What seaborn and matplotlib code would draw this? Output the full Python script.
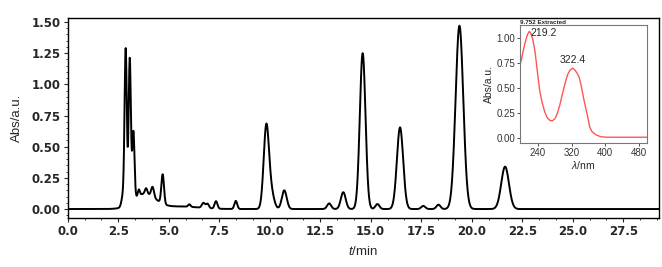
import numpy as np
import pandas as pd
import matplotlib
matplotlib.use('Agg')
import matplotlib.pyplot as plt
from matplotlib.ticker import MultipleLocator, FormatStrFormatter
import seaborn as sns

sns.set_style('ticks')
plt.rcParams['font.family'] = ['Liberation Sans', 'DejaVu Sans']
plt.rcParams['mathtext.fontset'] = 'custom'
plt.rcParams['mathtext.it'] = 'Liberation Sans:italic'
plt.rcParams['mathtext.rm'] = 'Liberation Sans'

# ── chromatogram peaks: retention time, height, width (sigma)
peak_time = [2.75, 2.87, 3.07, 3.25, 3.52, 3.88, 4.20, 4.70, 3.80, 5.60,
             6.02, 6.72, 6.92, 7.34, 8.32, 9.83, 10.08, 10.72, 12.94, 13.64,
             14.60, 15.33, 16.45, 17.60, 18.35, 19.39, 21.65]
peak_height = [0.10, 1.23, 1.16, 0.55, 0.05, 0.045, 0.08, 0.235, 0.12, 0.02,
               0.02, 0.04, 0.035, 0.06, 0.065, 0.66, 0.12, 0.15, 0.045, 0.135,
               1.25, 0.04, 0.655, 0.025, 0.035, 1.47, 0.34]
peak_sigma = [0.08, 0.055, 0.055, 0.055, 0.05, 0.06, 0.07, 0.065, 0.55, 0.9,
              0.06, 0.08, 0.07, 0.07, 0.07, 0.13, 0.14, 0.12, 0.10, 0.12,
              0.14, 0.10, 0.155, 0.10, 0.10, 0.19, 0.19]

# ── UV spectrum of the 9.752 min peak
wavelength = [197, 200, 205, 210, 215, 219.2, 223, 228, 233, 238, 244, 250, 256,
              262, 268, 274, 280, 286, 292, 298, 304, 310, 316, 322.4, 328, 333,
              338, 343, 348, 353, 358, 363, 368, 373, 380, 390, 400, 420, 450,
              480, 499]
absorb = [0.73, 0.78, 0.88, 0.97, 1.04, 1.07, 1.05, 0.98, 0.86, 0.68, 0.47, 0.35,
          0.26, 0.20, 0.175, 0.17, 0.19, 0.245, 0.33, 0.44, 0.54, 0.63, 0.68,
          0.70, 0.68, 0.65, 0.61, 0.52, 0.41, 0.31, 0.22, 0.11, 0.065, 0.045,
          0.025, 0.01, 0.006, 0.005, 0.005, 0.005, 0.005]

t = np.linspace(0, 29.3, 3000)
signal = np.zeros_like(t)
for t0, h, s in zip(peak_time, peak_height, peak_sigma):
    signal += h * np.exp(-(t - t0) ** 2 / (2 * s ** 2))
chrom = pd.DataFrame({'t': t, 'A': signal})
spec = pd.DataFrame({'wl': wavelength, 'A': absorb})

fig = plt.figure(figsize=(6.62, 2.67), dpi=100)
ax = fig.add_axes([0.1023, 0.1835, 0.8932, 0.7491])
sns.lineplot(data=chrom, x='t', y='A', color='black', linewidth=1.4, ax=ax)
ax.set_xlim(0, 29.27)
ax.set_ylim(-0.072, 1.532)
ax.xaxis.set_major_locator(MultipleLocator(2.5))
ax.xaxis.set_minor_locator(MultipleLocator(2.5 / 3))
ax.yaxis.set_major_locator(MultipleLocator(0.25))
ax.yaxis.set_minor_locator(MultipleLocator(0.05))
ax.xaxis.set_major_formatter(FormatStrFormatter('%.1f'))
ax.yaxis.set_major_formatter(FormatStrFormatter('%.2f'))
ax.tick_params(which='major', length=3, width=0.8, pad=2)
ax.tick_params(which='minor', length=1.5, width=0.6)
for lab in ax.get_xticklabels() + ax.get_yticklabels():
    lab.set_family('DejaVu Sans')
    lab.set_fontweight('bold')
    lab.set_fontsize(8.5)
for sp in ax.spines.values():
    sp.set_visible(True)
    sp.set_linewidth(1.0)
    sp.set_color('black')
ax.set_xlabel(r'$\it{t}$/min', fontsize=9.5, labelpad=5)
ax.set_ylabel('Abs/a.u.', fontsize=9.5, labelpad=6)

# inset spectrum
ins = fig.add_axes([0.7855, 0.4644, 0.1914, 0.442])
sns.lineplot(data=spec, x='wl', y='A', color='#ff5555', linewidth=1.0, ax=ins)
ins.set_xlim(197, 499)
ins.set_ylim(-0.053, 1.134)
ins.set_xticks([240, 320, 400, 480])
ins.set_yticks([0, 0.25, 0.5, 0.75, 1.0])
ins.yaxis.set_major_formatter(FormatStrFormatter('%.2f'))
ins.tick_params(length=2, width=0.6, labelsize=7, pad=1.5, colors='#333333')
for sp in ins.spines.values():
    sp.set_visible(True)
    sp.set_linewidth(0.8)
    sp.set_color('#777777')
ins.set_xlabel(r'$\it{\lambda}$/nm', fontsize=7.5, labelpad=1)
ins.set_ylabel('Abs/a.u.', fontsize=7.5, labelpad=2)
ins.set_title('9.752 Extracted', loc='left', fontsize=4.5, fontweight='bold', pad=1.0)
ins.text(221, 1.02, '219.2', fontsize=7.5)
ins.text(322.4, 0.75, '322.4', fontsize=7.5, ha='center')

fig.savefig('out.png', dpi=100)
